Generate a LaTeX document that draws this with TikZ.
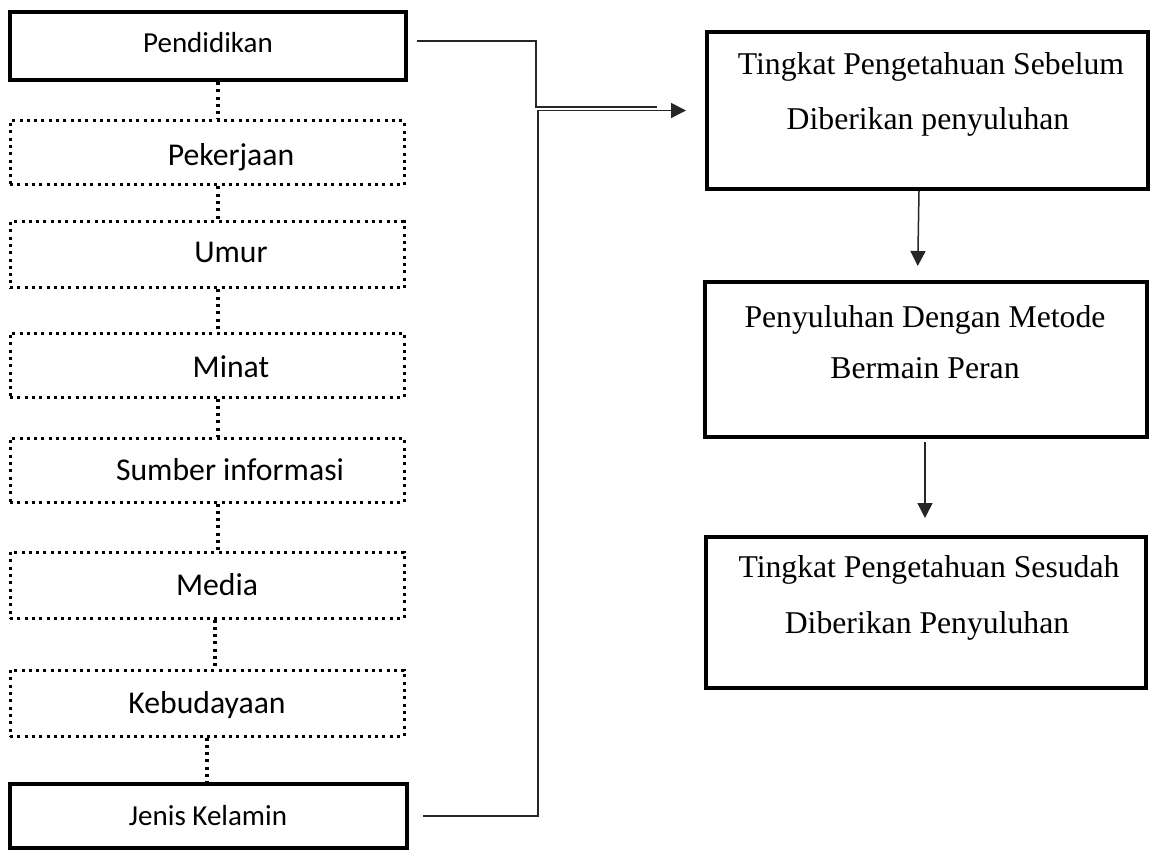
\documentclass[tikz,border=0pt]{standalone}
\usepackage{fontspec}
\setmainfont{Liberation Serif}
\newfontfamily\calfont{Carlito}
\usetikzlibrary{arrows.meta}
\begin{document}
\begin{tikzpicture}[x=1pt,y=-1pt,
  solidbox/.style={draw, line width=4pt, rectangle, inner sep=0pt},
  dotbox/.style={draw, line width=3pt, dash pattern=on 3pt off 4.3pt, rectangle, inner sep=0pt, minimum width=394pt},
  lbl/.style={anchor=base, inner sep=0pt, font=\calfont\fontsize{31.7}{38}\selectfont},
  lbls/.style={anchor=base, inner sep=0pt, font=\calfont\fontsize{29}{35}\selectfont},
  tlbl/.style={anchor=base, inner sep=0pt, font=\fontsize{31.7}{38}\selectfont},
  dotline/.style={line width=3.5pt, dash pattern=on 3pt off 4.3pt},
  conn/.style={line width=1.5pt, draw=black!85},
  arr/.style={conn, -{Triangle[length=15pt,width=15pt]}}
]
\useasboundingbox (0,0) rectangle (1151,850);

% left column
\node[solidbox, minimum width=396pt, minimum height=68pt] (pend) at (208,46) {};
\node[lbls] (tpend) at (208,53) {Pendidikan};

\node[dotbox, minimum height=64pt] (pek) at (207,153) {};
\node[lbl] (tpek) at (231,166) {Pekerjaan};

\node[dotbox, minimum height=66pt] (umur) at (207,255) {};
\node[lbl] (tumur) at (231,263) {Umur};

\node[dotbox, minimum height=64pt] (minat) at (207,365) {};
\node[lbl] (tminat) at (231,377) {Minat};

\node[dotbox, minimum height=64pt] (sumber) at (207,470) {};
\node[lbl] (tsumber) at (230,480) {Sumber informasi};

\node[dotbox, minimum height=66pt] (media) at (207,585) {};
\node[lbl] (tmedia) at (217,595) {Media};

\node[dotbox, minimum height=66pt] (keb) at (207,703) {};
\node[lbl] (tkeb) at (207,713) {Kebudayaan};

\node[solidbox, minimum width=397pt, minimum height=64pt] (jk) at (208.5,816) {};
\node[lbls] (tjk) at (208,825) {Jenis Kelamin};

% dotted links
\draw[dotline] ([xshift=10pt]pend.south) -- ([xshift=11pt]pek.north);
\draw[dotline] ([xshift=11pt]pek.south) -- ([xshift=11pt]umur.north);
\draw[dotline] ([xshift=11pt]umur.south) -- ([xshift=11pt]minat.north);
\draw[dotline] ([xshift=11pt]minat.south) -- ([xshift=11pt]sumber.north);
\draw[dotline] ([xshift=11pt]sumber.south) -- ([xshift=11pt]media.north);
\draw[dotline] ([xshift=8pt]media.south) -- ([xshift=8pt]keb.north);
\draw[dotline] (keb.south) -- ([xshift=-1.5pt]jk.north);

% right column
\node[solidbox, minimum width=441pt, minimum height=157pt] (b1) at (927.5,110.5) {};
\node[tlbl] (t1a) at (931,75) {Tingkat Pengetahuan Sebelum};
\node[tlbl] (t1b) at (928,130) {Diberikan penyuluhan};

\node[solidbox, minimum width=442pt, minimum height=155pt] (b2) at (926,359.5) {};
\node[tlbl] (t2a) at (925,327) {Penyuluhan Dengan Metode};
\node[tlbl] (t2b) at (925,378) {Bermain Peran};

\node[solidbox, minimum width=440pt, minimum height=151pt] (b3) at (926,612.5) {};
\node[tlbl] (t3a) at (929,577) {Tingkat Pengetahuan Sesudah};
\node[tlbl] (t3b) at (927,633) {Diberikan Penyuluhan};

% arrows between right boxes
\draw[arr, shorten >=14pt] ([xshift=-8.5pt]b1.south) -- ([xshift=-8.5pt]b2.north);
\draw[arr, shorten <=3pt, shorten >=17pt] ([xshift=-1pt]b2.south) -- ([xshift=-1pt]b3.north);

% connectors from left to right
\coordinate (pv) at (536,107);
\coordinate (pc) at (657,107);
\draw[conn] ([xshift=9pt,yshift=5pt]pend.east) -| (pv) -- (pc);

\coordinate (jv) at (538,110.5);
\draw[arr] ([xshift=14pt]jk.east) -| (jv) -- ([xshift=-19pt]b1.west);
\end{tikzpicture}
\end{document}
